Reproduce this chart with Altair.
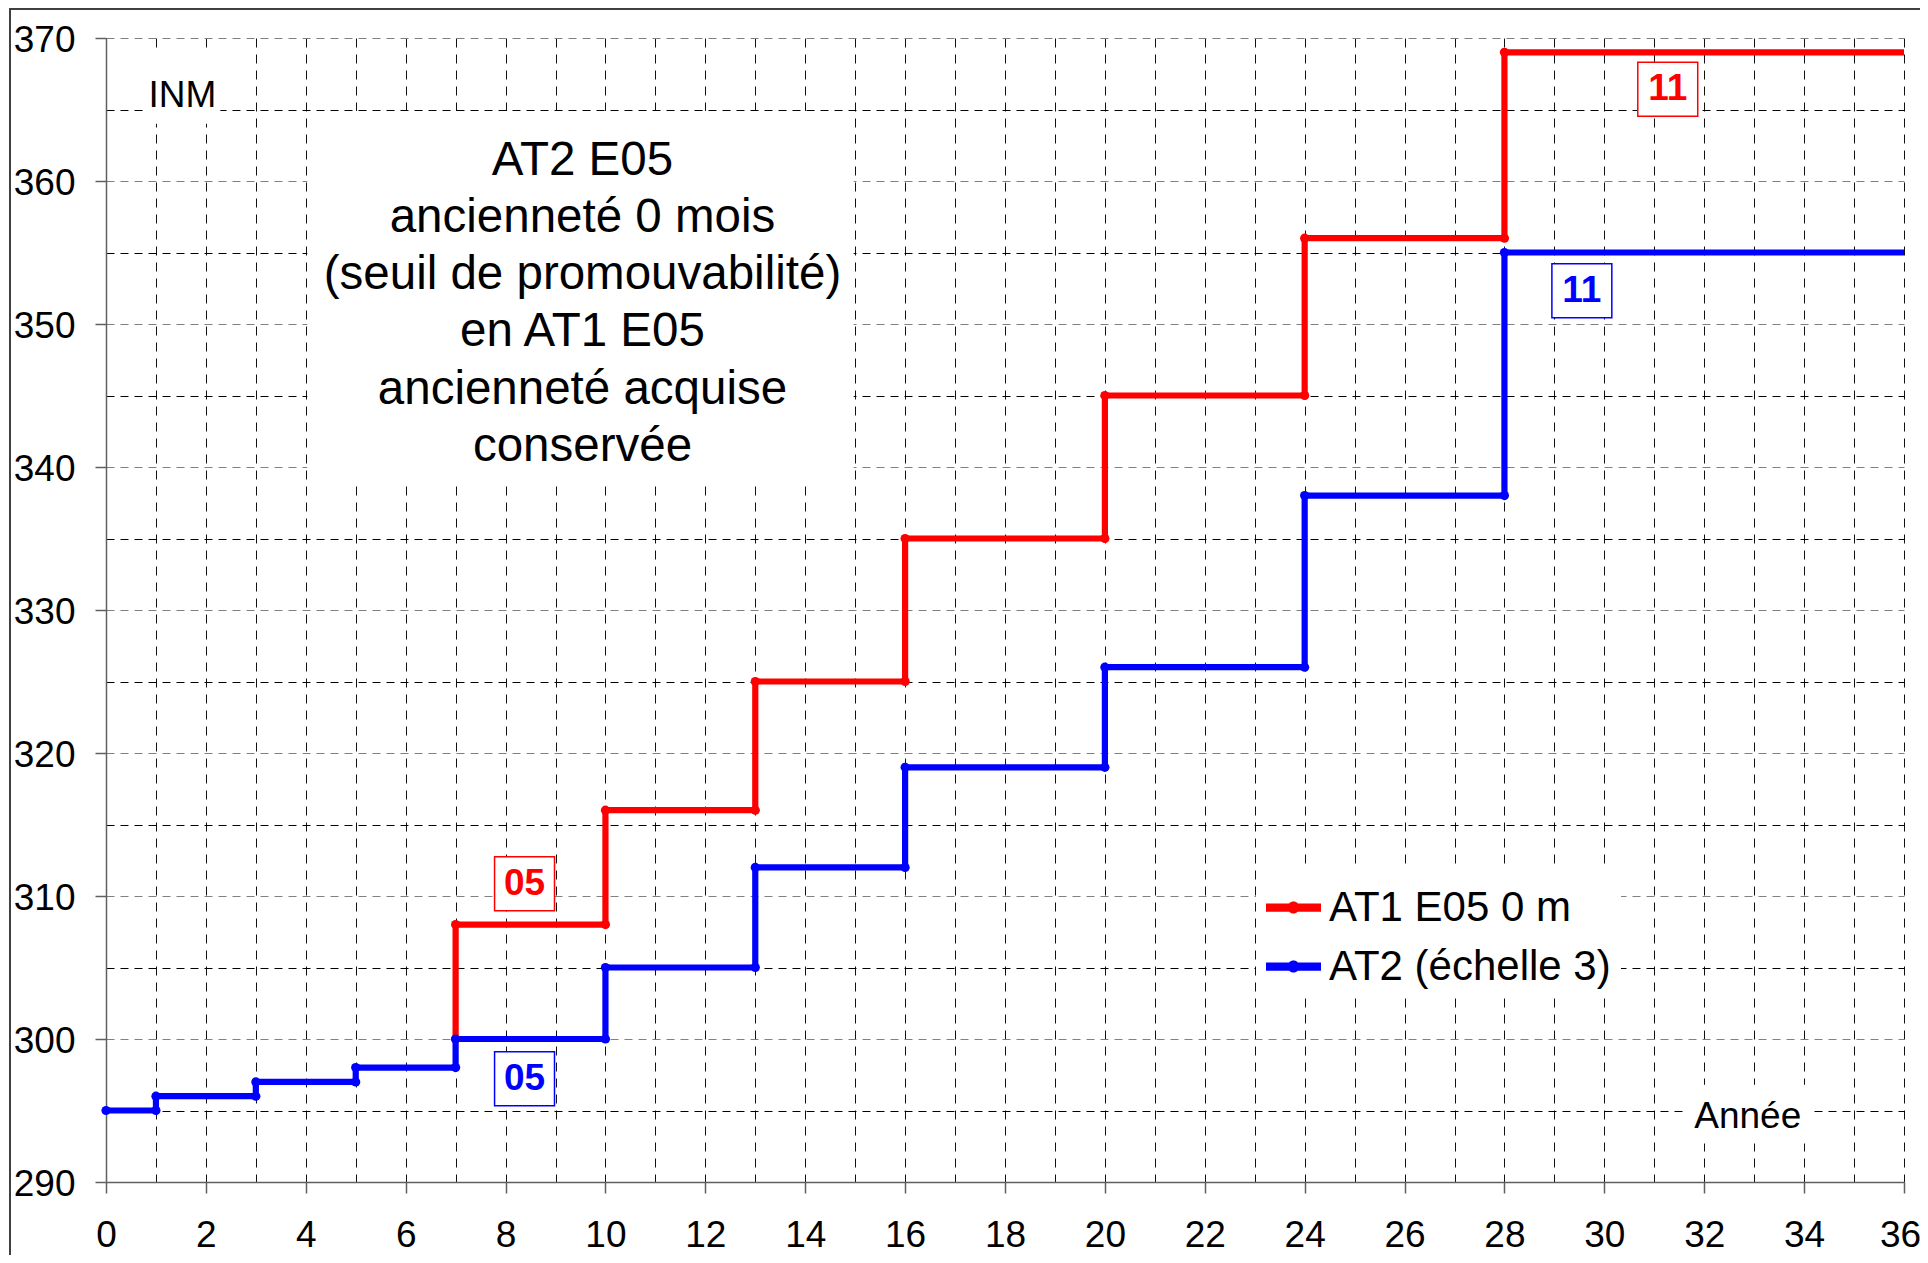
import altair as alt
import pandas as pd

# ---------------- data ----------------
# step vertices (year, INM) of both careers
at1_years = [7, 7, 10, 10, 13, 13, 16, 16, 20, 20, 24, 24, 28, 28, 36]
at1_inm = [300, 308, 308, 316, 316, 325, 325, 335, 335, 345, 345, 356, 356, 369, 369]
at2_years = [0, 1, 1, 3, 3, 5, 5, 7, 7, 10, 10, 13, 13, 16, 16, 20, 20, 24, 24, 28, 28, 36]
at2_inm = [295, 295, 296, 296, 297, 297, 298, 298, 300, 300, 305, 305, 312, 312, 319, 319,
           326, 326, 338, 338, 355, 355]

series_names = ["AT1 E05 0 m", "AT2 (échelle 3)"]
series_colors = ["#ff0000", "#0000ff"]

x_ticks = list(range(0, 37))
y_ticks = list(range(290, 371, 5))

# echelon labels (centre of each boxed label)
label_text = ["05", "05", "11", "11"]
label_year = [8.38, 8.38, 31.27, 29.55]
label_inm = [310.85, 297.22, 366.42, 352.32]
label_color = ["#ff0000", "#0000ff", "#ff0000", "#0000ff"]

note_lines = ["AT2 E05", "ancienneté 0 mois", "(seuil de promouvabilité)",
              "en AT1 E05", "ancienneté acquise", "conservée"]

FONT = "Liberation Sans"

rows = []
for name, col, xs, ys in zip(series_names, series_colors, [at1_years, at2_years], [at1_inm, at2_inm]):
    for i, (x, y) in enumerate(zip(xs, ys)):
        rows.append({"series": name, "col": col, "year": x, "inm": y, "idx": i})
df = pd.DataFrame(rows)

labels_df = pd.DataFrame({"text": label_text, "year": label_year, "inm": label_inm, "col": label_color})

# white backgrounds behind the free texts (INM, Année, note box)
bg_df = pd.DataFrame({
    "year": [0.82, 31.58, 4.03],
    "year2": [2.29, 34.17, 14.97],
    "inm": [364.0, 292.7, 338.8],
    "inm2": [369.0, 296.8, 364.9],
})

free_text_df = pd.DataFrame({
    "year": [0.85, 31.8],
    "inm": [365.2, 293.8],
    "text": ["INM", "Année"],
})

note_df = pd.DataFrame({"year": [9.54], "inm": [360.45], "text": ["\n".join(note_lines)]})

# ---------------- scales / axes ----------------
xscale = alt.Scale(domain=[0, 36], nice=False, zero=False)
yscale = alt.Scale(domain=[290, 370], nice=False, zero=False)

xaxis = alt.Axis(
    values=x_ticks, title=None,
    labelExpr="datum.value % 2 === 0 ? datum.label : ''",
    labelFont=FONT, labelFontSize=37, labelColor="black", labelPadding=24,
    labelFlush=False, labelOverlap=False,
    labelOffset={"condition": {"test": "datum.value === 36", "value": -4}, "value": 0},
    tickSize=11, tickWidth=1.5, tickColor="#606060",
    tickOpacity={"condition": {"test": "datum.value % 2 === 0", "value": 1}, "value": 0},
    domainColor="#606060", domainWidth=1.5,
    grid=True, gridColor="#111111", gridWidth=1, gridDash=[9, 7],
)
yaxis = alt.Axis(
    values=y_ticks, title=None,
    labelExpr="datum.value % 10 === 0 ? datum.label : ''",
    labelFont=FONT, labelFontSize=37, labelColor="black", labelPadding=20,
    labelFlush=False, labelOverlap=False, labelOffset=2,
    tickSize=11, tickWidth=1.5, tickColor="#606060",
    tickOpacity={"condition": {"test": "datum.value % 10 === 0", "value": 1}, "value": 0},
    domainColor="#606060", domainWidth=1.5,
    grid=True, gridWidth=1, gridDash=[8, 6],
    gridColor={"condition": {"test": "datum.value % 10 === 0", "value": "#808080"}, "value": "#000000"},
)

X = lambda f: alt.X(f, scale=xscale, axis=xaxis)
Y = lambda f: alt.Y(f, scale=yscale, axis=yaxis)

LEGEND_PATH = ("M-1,-0.15 L1,-0.15 L1,0.15 L-1,0.15 Z "
               "M-0.22,0 A0.22,0.22 0 1,1 0.22,0 A0.22,0.22 0 1,1 -0.22,0 Z")

legend = alt.Legend(
    title=None, orient="none", legendX=1150, legendY=832, direction="vertical",
    fillColor="white", padding=10,
    symbolType=LEGEND_PATH, symbolSize=3025, symbolStrokeWidth=0, symbolOpacity=1,
    labelFont=FONT, labelFontSize=42, labelColor="black", labelOffset=8, labelLimit=1000,
    rowPadding=10,
)

# ---------------- layers ----------------
frame = alt.Chart(alt.Data(values=[{}])).mark_rect(
    fillOpacity=0, stroke="#404040", strokeWidth=2
).encode(x=alt.value(-96), x2=alt.value(2100), y=alt.value(-29), y2=alt.value(1500))

backgrounds = alt.Chart(bg_df).mark_rect(fill="white", strokeWidth=0).encode(
    x=X("year:Q"), x2="year2:Q", y=Y("inm:Q"), y2="inm2:Q"
)

lines = alt.Chart(df).mark_line(strokeWidth=6.2, strokeJoin="miter").encode(
    x=X("year:Q"), y=Y("inm:Q"),
    color=alt.Color("col:N", scale=None),
    detail="series:N",
    order=alt.Order("idx:Q"),
)

points = alt.Chart(df).transform_filter("datum.year < 36").mark_point(
    filled=True, size=85, opacity=1, strokeWidth=0
).encode(
    x=X("year:Q"), y=Y("inm:Q"),
    color=alt.Color("series:N", scale=alt.Scale(domain=series_names, range=series_colors), legend=legend),
)

label_boxes = alt.Chart(labels_df).transform_calculate(
    bx1="datum.year - 0.6", bx2="datum.year + 0.6", by1="datum.inm - 1.89", by2="datum.inm + 1.89"
).mark_rect(fill="white", strokeWidth=1.5).encode(
    x=X("bx1:Q"), x2="bx2:Q", y=Y("by1:Q"), y2="by2:Q",
    stroke=alt.Stroke("col:N", scale=None),
)

label_texts = alt.Chart(labels_df).mark_text(
    font=FONT, fontSize=37, fontWeight="bold", align="center", baseline="middle"
).encode(
    x=X("year:Q"), y=Y("inm:Q"), text="text:N", color=alt.Color("col:N", scale=None)
)

free_texts = alt.Chart(free_text_df).mark_text(
    font=FONT, fontSize=37, align="left", baseline="alphabetic", color="black"
).encode(x=X("year:Q"), y=Y("inm:Q"), text="text:N")

note = alt.Chart(note_df).mark_text(
    font=FONT, fontSize=47.5, align="center", baseline="alphabetic", color="black",
    lineBreak="\n", lineHeight=57.3
).encode(x=X("year:Q"), y=Y("inm:Q"), text="text:N")

chart = alt.layer(
    frame, backgrounds, lines, points, label_boxes, label_texts, free_texts, note
).properties(
    width=1798, height=1144,
    autosize=alt.AutoSizeParams(type="none"),
    padding={"left": 98, "top": 30, "right": 16, "bottom": 73},
).configure(font=FONT).configure_view(stroke=None)

chart.save("out.html", embed_options={"renderer": "svg", "actions": False})
